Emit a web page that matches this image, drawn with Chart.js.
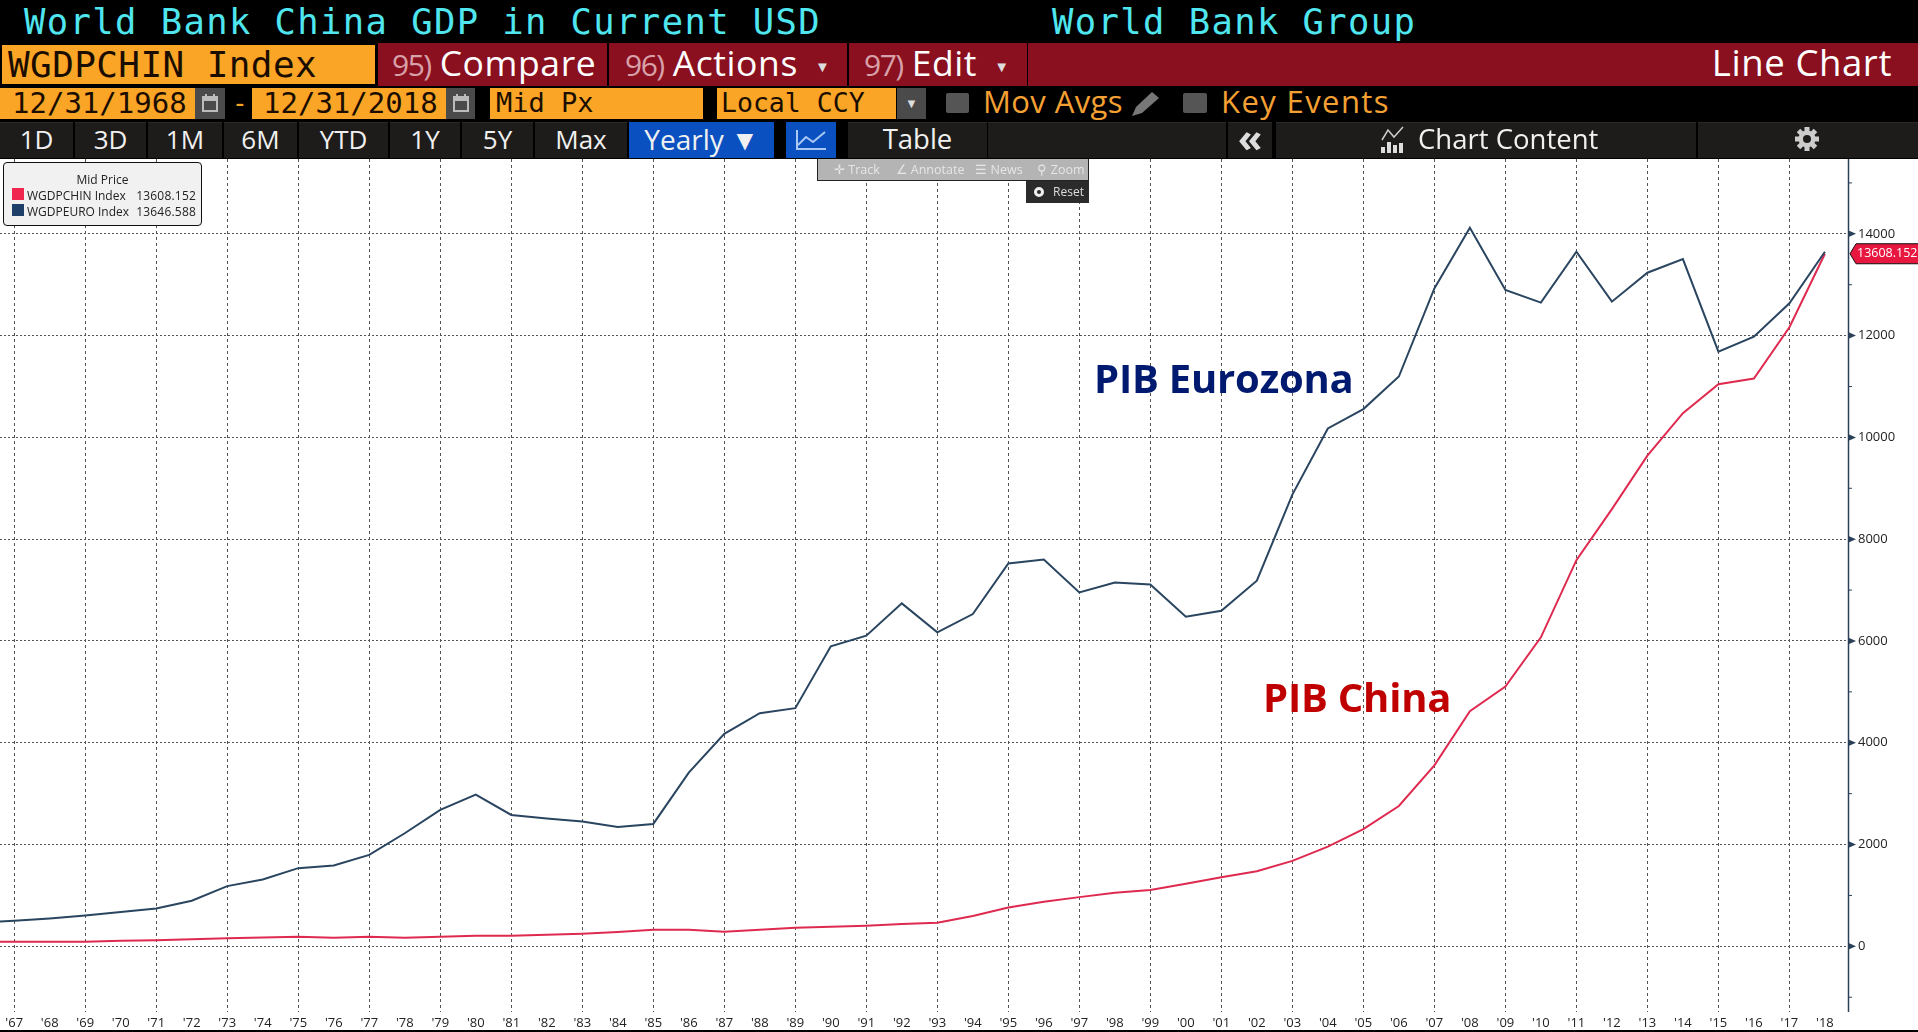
<!DOCTYPE html>
<html>
<head>
<meta charset="utf-8">
<title>World Bank China GDP in Current USD</title>
<script src="https://cdn.jsdelivr.net/npm/chart.js@4"></script>
<style>
html,body{margin:0;padding:0;background:#000;width:1918px;height:1032px;overflow:hidden}
.a{position:absolute;white-space:nowrap;box-sizing:border-box}
.m{font-family:"DejaVu Sans Mono",monospace}
.s{font-family:"Open Sans",sans-serif}
.o{background:#fba526;color:#1a0d00}
.r{background:#8a1020;color:#fff;font-size:35.5px;line-height:39px;letter-spacing:.6px}
.r i{font-style:normal;color:#d8a0a8;font-size:30px;letter-spacing:-1.5px;margin-right:9px}
.b{background:#1e1c1a;color:#f0f0f0;top:122px;height:36px;font-size:26px;line-height:32px;text-align:center;border-top:1px solid #2c2a28}
.g{background:#4a4a4a}
.leg{font:12px/16px "Open Sans",sans-serif;color:#222}
.tb{top:160px;height:20px;font:12.5px/20px "Open Sans",sans-serif;color:#e6e6e6;text-align:center}
</style>
</head>
<body>
<div class="a" style="left:0;top:159px;width:1918px;height:871px;background:#fff"><canvas id="c" width="1918" height="871" style="display:block"></canvas></div>

<!-- row 1 -->
<div class="a m" style="left:24px;top:0;font-size:35.5px;line-height:44px;letter-spacing:1.4px;color:#4fe6ef">World Bank China GDP in Current USD</div>
<div class="a m" style="left:1052px;top:0;font-size:35.5px;line-height:44px;letter-spacing:1.4px;color:#4fe6ef">World Bank Group</div>

<!-- row 2 -->
<div class="a o m" style="left:2px;top:45px;width:373px;height:39px;font-size:36px;line-height:39px;padding-left:6px;letter-spacing:.4px">WGDPCHIN Index</div>
<div class="a r s" style="left:378px;top:43px;width:229px;height:43px;padding-left:14px"><i>95)</i>Compare</div>
<div class="a r s" style="left:609px;top:43px;width:238px;height:43px;padding-left:16px"><i>96)</i>Actions<span style="font-size:15px;color:#ddd;margin-left:17px;vertical-align:4px">▼</span></div>
<div class="a r s" style="left:849px;top:43px;width:178px;height:43px;padding-left:15px"><i>97)</i>Edit<span style="font-size:15px;color:#ddd;margin-left:17px;vertical-align:4px">▼</span></div>
<div class="a r s" style="left:1028px;top:43px;width:890px;height:43px;text-align:right;padding-right:26px;font-size:36.5px">Line Chart</div>

<!-- row 3 -->
<div class="a o m" style="left:0;top:88px;width:195px;height:31px;font-size:29px;line-height:30px;padding-left:12px">12/31/1968</div>
<div class="a g" style="left:195px;top:88px;width:30px;height:31px"><svg width="30" height="31"><rect x="8" y="9" width="14" height="14" fill="none" stroke="#bbb" stroke-width="2"/><rect x="8" y="9" width="14" height="4" fill="#bbb"/><rect x="10" y="6" width="2" height="4" fill="#bbb"/><rect x="18" y="6" width="2" height="4" fill="#bbb"/></svg></div>
<div class="a m" style="left:232px;top:88px;font-size:26px;line-height:30px;color:#fba526">-</div>
<div class="a o m" style="left:252px;top:88px;width:194px;height:31px;font-size:29px;line-height:30px;padding-left:11px">12/31/2018</div>
<div class="a g" style="left:446px;top:88px;width:29px;height:31px"><svg width="29" height="31"><rect x="8" y="9" width="14" height="14" fill="none" stroke="#bbb" stroke-width="2"/><rect x="8" y="9" width="14" height="4" fill="#bbb"/><rect x="10" y="6" width="2" height="4" fill="#bbb"/><rect x="18" y="6" width="2" height="4" fill="#bbb"/></svg></div>
<div class="a o m" style="left:490px;top:88px;width:213px;height:31px;font-size:27px;line-height:30px;padding-left:6px">Mid Px</div>
<div class="a o m" style="left:717px;top:88px;width:179px;height:31px;font-size:26.5px;line-height:30px;padding-left:4px">Local CCY</div>
<div class="a g" style="left:897px;top:88px;width:29px;height:31px;color:#ddd;font-size:13px;line-height:31px;text-align:center">▼</div>
<div class="a" style="left:946px;top:93px;width:23px;height:20px;background:#555;border-radius:2px"></div>
<div class="a s" style="left:983px;top:83px;font-size:31px;line-height:36px;letter-spacing:.4px;color:#f5a033">Mov Avgs</div>
<div class="a" style="left:1129px;top:90px;width:32px;height:28px"><svg width="32" height="28"><path d="M3 26 L7 17 L23 2 L30 8 L13 23 Z" fill="#777"/></svg></div>
<div class="a" style="left:1183px;top:93px;width:24px;height:20px;background:#555;border-radius:2px"></div>
<div class="a s" style="left:1221px;top:83px;font-size:31px;line-height:36px;letter-spacing:1.4px;color:#f5a033">Key Events</div>

<!-- row 4 -->
<div class="a b s" style="left:0;width:73px">1D</div>
<div class="a b s" style="left:75px;width:71px">3D</div>
<div class="a b s" style="left:148px;width:74px">1M</div>
<div class="a b s" style="left:224px;width:73px">6M</div>
<div class="a b s" style="left:299px;width:89px">YTD</div>
<div class="a b s" style="left:390px;width:70px">1Y</div>
<div class="a b s" style="left:462px;width:71px">5Y</div>
<div class="a b s" style="left:535px;width:92px">Max</div>
<div class="a b s" style="left:629px;width:145px;background:#0a50c0;border-top-color:#0a50c0;font-size:28px">Yearly <span style="font-size:28px">▼</span></div>
<div class="a b" style="left:786px;width:50px;background:#0a50c0;border-top-color:#0a50c0"><svg width="50" height="34"><path d="M11 7 V26 H40 M12 22 L20 14 L27 19 L39 9" fill="none" stroke="#a9c8f2" stroke-width="2"/></svg></div>
<div class="a b s" style="left:848px;width:139px;font-size:27.5px">Table</div>
<div class="a b" style="left:988px;width:238px"></div>
<div class="a b s" style="left:1228px;width:44px;color:#ddd;font-weight:700;font-size:40px;line-height:27px">«</div>
<div class="a b s" style="left:1276px;width:420px;font-size:27.5px;text-align:left"><svg width="26" height="28" style="position:absolute;left:104px;top:3px"><path d="M2 14 L8 4 L14 11 L23 1" fill="none" stroke="#ccc" stroke-width="1.5"/><rect x="1" y="21" width="4" height="6" fill="#ddd"/><rect x="7" y="16" width="4" height="11" fill="#ddd"/><rect x="13" y="19" width="4" height="8" fill="#ddd"/><rect x="19" y="17" width="4" height="10" fill="#ddd"/></svg><span style="position:absolute;left:142px">Chart Content</span></div>
<div class="a b" style="left:1698px;width:220px"></div>
<div class="a" style="left:1793px;top:125px;width:28px;height:28px"><svg width="28" height="28" viewBox="0 0 28 28"><g fill="#ccc"><circle cx="14" cy="14" r="8.5"/><rect x="11.5" y="2" width="5" height="24"/><rect x="11.5" y="2" width="5" height="24" transform="rotate(45 14 14)"/><rect x="11.5" y="2" width="5" height="24" transform="rotate(90 14 14)"/><rect x="11.5" y="2" width="5" height="24" transform="rotate(135 14 14)"/></g><circle cx="14" cy="14" r="4" fill="#1e1c1a"/></svg></div>

<!-- chart legend box -->
<div class="a leg" style="left:3px;top:162px;width:199px;height:64px;background:#f1f1f1;border:1px solid #111;border-radius:4px">
  <div class="a" style="left:0;width:197px;top:9px;text-align:center">Mid Price</div>
  <div class="a" style="left:8px;top:25px;width:12px;height:12px;background:#f0264f"></div>
  <div class="a" style="left:23px;top:25px">WGDPCHIN Index</div>
  <div class="a" id="v1" style="right:5px;top:25px;letter-spacing:.2px">13608.152</div>
  <div class="a" style="left:8px;top:41px;width:12px;height:12px;background:#1d3f68"></div>
  <div class="a" style="left:23px;top:41px">WGDPEURO Index</div>
  <div class="a" id="v2" style="right:5px;top:41px;letter-spacing:.2px">13646.588</div>
</div>

<!-- chart tools overlay -->
<div class="a" style="left:817px;top:159px;width:272px;height:22px;background:#b4b4b4;border:1px solid #222;border-top:0"></div>
<div class="a tb" style="left:818px;width:78px">✛ Track</div>
<div class="a tb" style="left:880px;width:100px">∠ Annotate</div>
<div class="a tb" style="left:969px;width:60px">☰ News</div>
<div class="a tb" style="left:1031px;width:60px">⚲ Zoom</div>
<div class="a" style="left:1026px;top:181px;width:63px;height:22px;background:#2b2b2b;font:12px/22px 'Open Sans',sans-serif;color:#ddd;text-align:right;padding-right:5px">Reset</div>
<div class="a" style="left:1034px;top:187px;width:10px;height:10px;border:3px solid #eee;border-radius:50%;box-sizing:border-box"></div>

<!-- series annotations -->
<div class="a" style="left:1094px;top:352px;font:700 40px/52px 'Open Sans',sans-serif;color:#001a70;letter-spacing:-.2px">PIB Eurozona</div>
<div class="a" style="left:1263px;top:671px;font:700 40px/52px 'Open Sans',sans-serif;color:#c00000;letter-spacing:-.2px">PIB China</div>

<script>
const years = [1966,1967,1968,1969,1970,1971,1972,1973,1974,1975,1976,1977,1978,1979,1980,1981,1982,1983,1984,1985,1986,1987,1988,1989,1990,1991,1992,1993,1994,1995,1996,1997,1998,1999,2000,2001,2002,2003,2004,2005,2006,2007,2008,2009,2010,2011,2012,2013,2014,2015,2016,2017,2018];
const euroValues = [470,503,549,608,673,745,895,1183,1314,1536,1588,1797,2222,2680,2980,2582,2510,2451,2345,2405,3412,4176,4582,4680,5896,6105,6739,6170,6529,7523,7601,6954,7150,7111,6477,6595,7185,8876,10176,10556,11196,12928,14118,12895,12647,13647,12667,13236,13504,11686,11980,12634,13646.588];
const chinaValues = [92,92,92,92,111,118,137,157,176,190,170,190,170,190,209,209,229,248,281,327,327,288,327,366,386,405,438,464,595,765,876,967,1052,1105,1229,1359,1477,1680,1960,2305,2757,3556,4621,5105,6072,7588,8590,9640,10477,11046,11157,12164,13608.152];
const xTickYears = [1967,1968,1969,1970,1971,1972,1973,1974,1975,1976,1977,1978,1979,1980,1981,1982,1983,1984,1985,1986,1987,1988,1989,1990,1991,1992,1993,1994,1995,1996,1997,1998,1999,2000,2001,2002,2003,2004,2005,2006,2007,2008,2009,2010,2011,2012,2013,2014,2015,2016,2017,2018];
const yTickValues = [-1000,0,1000,2000,3000,4000,5000,6000,7000,8000,9000,10000,11000,12000,13000,14000,15000];
const lastLabel = "13608.152";
const lineEuro = "#2a4560", lineChina = "#df2a50", axisColor = "#2a4058", gridColor = "#555";

const axisDecor = {
  id: "axisDecor",
  afterDatasetsDraw(chart) {
    const {ctx, scales: {y}, chartArea: a} = chart;
    ctx.save();
    ctx.strokeStyle = axisColor; ctx.fillStyle = axisColor; ctx.lineWidth = 1.5;
    ctx.beginPath(); ctx.moveTo(a.right + .5, a.top); ctx.lineTo(a.right + .5, a.bottom); ctx.stroke();
    yTickValues.forEach(v => {
      const p = y.getPixelForValue(v);
      if (v % 2000 === 0) {
        ctx.beginPath(); ctx.moveTo(a.right, p - 3.5); ctx.lineTo(a.right + 8, p); ctx.lineTo(a.right, p + 3.5); ctx.closePath(); ctx.fill();
      } else {
        ctx.beginPath(); ctx.moveTo(a.right, p); ctx.lineTo(a.right + 4, p); ctx.lineWidth = 1; ctx.stroke();
      }
    });
    const last = chinaValues[chinaValues.length - 1], py = y.getPixelForValue(last), l = a.right + 2, r = chart.width + 2;
    ctx.fillStyle = "#e8173f"; ctx.strokeStyle = "#111"; ctx.lineWidth = 1;
    ctx.beginPath(); ctx.moveTo(l, py); ctx.lineTo(l + 6, py - 10); ctx.lineTo(r, py - 10); ctx.lineTo(r, py + 10); ctx.lineTo(l + 6, py + 10); ctx.closePath(); ctx.fill(); ctx.stroke();
    ctx.fillStyle = "#fff"; ctx.font = '12.5px "Open Sans"'; ctx.textAlign = "left"; ctx.textBaseline = "middle";
    ctx.fillText(lastLabel, l + 7, py);
    ctx.restore();
  }
};

new Chart(document.getElementById("c"), {
  type: "line",
  data: {
    datasets: [
      {label: "WGDPEURO Index", data: years.map((x, i) => ({x, y: euroValues[i]})), borderColor: lineEuro, borderWidth: 2, pointRadius: 0, tension: 0, fill: false},
      {label: "WGDPCHIN Index", data: years.map((x, i) => ({x, y: chinaValues[i]})), borderColor: lineChina, borderWidth: 2, pointRadius: 0, tension: 0, fill: false}
    ]
  },
  options: {
    responsive: false, animation: false, devicePixelRatio: 1,
    layout: {padding: 0},
    plugins: {legend: {display: false}, title: {display: false}, tooltip: {enabled: false}},
    scales: {
      x: {
        type: "linear", min: 1966.6, max: 2018.65,
        afterBuildTicks(s) { s.ticks = xTickYears.map(value => ({value})); },
        afterFit(s) { s.height = 18; s.paddingLeft = 0; s.paddingRight = 0; s.paddingTop = 0; s.paddingBottom = 0; },
        border: {display: false, dash: [3, 3]},
        grid: {drawTicks: false, lineWidth: 1, color: c => (c.tick && c.tick.value % 2 === 1) ? gridColor : "rgba(0,0,0,0)"},
        ticks: {autoSkip: false, maxRotation: 0, minRotation: 0, padding: 3, color: "#222", font: {family: "Open Sans", size: 13}, callback: v => "'" + String(v).slice(2)}
      },
      y: {
        position: "right", min: -1290, max: 15470,
        afterBuildTicks(s) { s.ticks = yTickValues.map(value => ({value})); },
        afterFit(s) { s.width = 70; s.paddingLeft = 0; s.paddingRight = 0; s.paddingTop = 0; s.paddingBottom = 0; },
        border: {display: false, dash: [2, 2]},
        grid: {drawTicks: false, lineWidth: 1, color: c => (c.tick && c.tick.value % 2000 === 0) ? gridColor : "rgba(0,0,0,0)"},
        ticks: {autoSkip: false, padding: 10, color: "#222", font: {family: "Open Sans", size: 13}, callback: v => v % 2000 === 0 ? String(v) : ""}
      }
    }
  },
  plugins: [axisDecor]
});
</script>
</body>
</html>
